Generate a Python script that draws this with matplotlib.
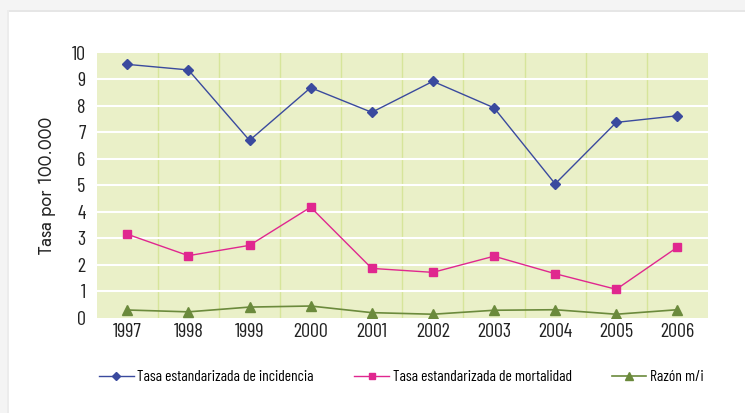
import matplotlib.pyplot as plt
from matplotlib import font_manager
from matplotlib.patches import Rectangle

years = ['1997', '1998', '1999', '2000', '2001', '2002', '2003', '2004', '2005', '2006']
incidencia = [9.56, 9.35, 6.69, 8.68, 7.75, 8.92, 7.92, 5.05, 7.37, 7.62]
mortalidad = [3.15, 2.34, 2.73, 4.17, 1.86, 1.71, 2.32, 1.66, 1.07, 2.66]
razon = [0.29, 0.22, 0.40, 0.44, 0.19, 0.13, 0.28, 0.30, 0.13, 0.30]

labels = ['Tasa estandarizada de incidencia',
          'Tasa estandarizada de mortalidad',
          'Razón m/i']


def find_font(*candidates):
    # first installed file whose name matches, else None
    files = [f.fname for f in font_manager.fontManager.ttflist]
    for c in candidates:
        for fn in files:
            if fn.split('/')[-1].lower() == c.lower():
                return fn
    return None


cond_file = find_font('BarlowCondensed-Regular.ttf', 'DejaVuSansCondensed.ttf')
geo_file = find_font('Jost[wght].ttf', 'Jost-Regular.ttf', 'Lato-Regular.ttf')


def fp(fname, size):
    if fname:
        return font_manager.FontProperties(fname=fname, size=size)
    return font_manager.FontProperties(family='DejaVu Sans', size=size)


fig = plt.figure(figsize=(7.45, 4.13), dpi=100)
fig.patch.set_facecolor('white')

# soft grey frame along the top and left edges
fig.patches.append(Rectangle((0, 0.975), 1, 0.025, transform=fig.transFigure,
                             facecolor='#f4f4f4', edgecolor='none', zorder=0))
fig.patches.append(Rectangle((0, 0), 0.011, 1, transform=fig.transFigure,
                             facecolor='#f4f4f4', edgecolor='none', zorder=0))
fig.patches.append(Rectangle((0.011, 0.972), 0.989, 0.004, transform=fig.transFigure,
                             facecolor='#e6e6e6', edgecolor='none', zorder=0))
fig.patches.append(Rectangle((0.009, 0), 0.003, 0.975, transform=fig.transFigure,
                             facecolor='#ececec', edgecolor='none', zorder=0))

ax = fig.add_axes([0.1298, 0.2308, 0.8205, 0.6416])
ax.set_facecolor('#eaf0c8')
x = list(range(len(years)))

# vertical separators between years and white horizontal grid
for b in range(1, len(years)):
    ax.axvline(b - 0.5, color='#d6e59a', linewidth=1.0, zorder=1)
for h in range(1, 10):
    ax.axhline(h, color='white', linewidth=1.5, zorder=1)

ax.plot(x, incidencia, color='#3a4a9e', linewidth=1.0, marker='D', markersize=5,
        label=labels[0], zorder=3)
ax.plot(x, mortalidad, color='#e0278f', linewidth=1.0, marker='s', markersize=5.5,
        label=labels[1], zorder=3)
ax.plot(x, razon, color='#6b8a3c', linewidth=1.2, marker='^', markersize=6.5,
        label=labels[2], zorder=3)

ax.set_xlim(-0.5, len(years) - 0.5)
ax.set_ylim(0, 10)
ax.set_xticks(x)
ax.set_xticklabels(years, fontproperties=fp(cond_file, 14.5), color='#222222')
ax.set_yticks(range(0, 11))
ax.set_yticklabels([str(v) for v in range(0, 11)], fontproperties=fp(cond_file, 14.5),
                   color='#222222')
ax.tick_params(axis='y', length=0, pad=8)
ax.tick_params(axis='x', length=0, pad=4)
for s in ax.spines.values():
    s.set_visible(False)

ax.set_ylabel('Tasa por 100.000', fontproperties=fp(geo_file, 13), color='#222222',
              labelpad=11)

fig.legend(loc='center', bbox_to_anchor=(0.539, 0.087), ncol=3, frameon=False,
           prop=fp(cond_file, 11.2), handlelength=2.2, markerscale=0.9,
           columnspacing=2.6, handletextpad=0.25)

fig.savefig('out.png', dpi=100)
